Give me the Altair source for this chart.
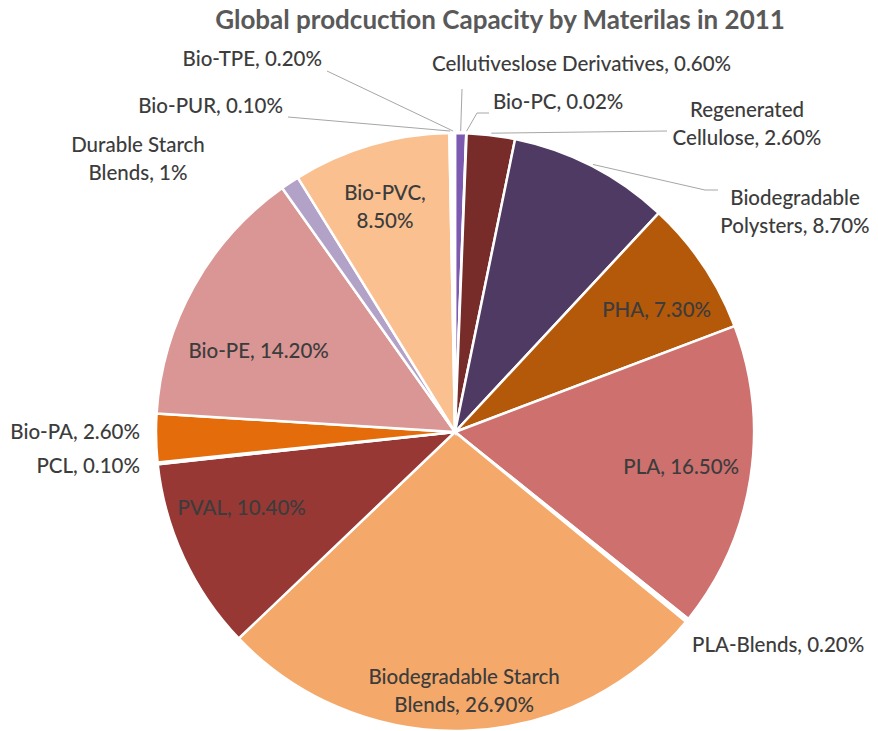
import math
import altair as alt
import pandas as pd

# Material shares (%) in clockwise order from 12 o'clock
materials = [
    "Cellutiveslose Derivatives", "Bio-PC", "Regenerated Cellulose",
    "Biodegradable Polysters", "PHA", "PLA", "PLA-Blends",
    "Biodegradable Starch Blends", "PVAL", "PCL", "Bio-PA", "Bio-PE",
    "Durable Starch Blends", "Bio-PVC", "Bio-PUR", "Bio-TPE",
]
shares = [0.60, 0.02, 2.60, 8.70, 7.30, 16.50, 0.20, 26.90, 10.40, 0.10,
          2.60, 14.20, 1.0, 8.50, 0.10, 0.20]
label_texts = [
    "Cellutiveslose Derivatives, 0.60%", "Bio-PC, 0.02%",
    "Regenerated\nCellulose, 2.60%", "Biodegradable\nPolysters, 8.70%",
    "PHA, 7.30%", "PLA, 16.50%", "PLA-Blends, 0.20%",
    "Biodegradable Starch\nBlends, 26.90%", "PVAL, 10.40%", "PCL, 0.10%",
    "Bio-PA, 2.60%", "Bio-PE, 14.20%", "Durable Starch\nBlends, 1%",
    "Bio-PVC,\n8.50%", "Bio-PUR, 0.10%", "Bio-TPE, 0.20%",
]
# the sliver slices are filled white, as they vanish under the slice borders
colors = [
    "#7B5AB0", "#FFFFFF", "#772C2A", "#4E3A62", "#B4580A", "#CD706E",
    "#FFFFFF", "#F4A96A", "#973835", "#FFFFFF", "#E46C0A", "#D99694",
    "#B3A2C7", "#FAC090", "#FFFFFF", "#FFFFFF",
]

# ---- layout ----
W, H = 878, 731
TOP = 40                     # room for the title
CX, CY = 455, 432            # pie centre on the page
R = 299
FONT = "Lato"
TEXT_COLOR = "#3C3C3C"
LINE_COLOR = "#A6A6A6"
LABEL_SIZE = 20.5

# inside labels: (radius, angle nudge in degrees) from the slice mid-angle
inside = {
    "PHA": (235, 3), "PLA": (229, 0), "Biodegradable Starch Blends": (246, 0),
    "PVAL": (227, 5), "Bio-PE": (212, -7), "Bio-PVC": (248, 0),
}
# outside labels: anchor point on the page and alignment
outside = {
    "Bio-TPE": (322, 60, "right"),
    "Bio-PUR": (283, 107, "right"),
    "Durable Starch Blends": (138, 146, "center"),
    "Cellutiveslose Derivatives": (432, 65, "left"),
    "Bio-PC": (493, 103, "left"),
    "Regenerated Cellulose": (747, 111, "center"),
    "Biodegradable Polysters": (795, 199, "center"),
    "PLA-Blends": (692, 646, "left"),
    "Bio-PA": (140, 433, "right"),
    "PCL": (140, 467, "right"),
}
# leader lines: extra bend points after the slice edge, on the page
leaders = {
    "Bio-TPE": [(327, 71)],
    "Bio-PUR": [(288, 117)],
    "Cellutiveslose Derivatives": [(462, 89)],
    "Bio-PC": [(477, 113), (489, 113)],
    "Regenerated Cellulose": [(667, 131)],
    "Biodegradable Polysters": [(705, 190), (718, 190)],
}

df = pd.DataFrame({"material": materials, "share": shares,
                   "label": label_texts, "idx": range(len(materials))})
total = df["share"].sum()
df["mid"] = (df["share"].cumsum() - df["share"] / 2) / total * 2 * math.pi


def polar(angle, radius):
    return CX + radius * math.sin(angle), CY - radius * math.cos(angle) - TOP


rows = []
for _, r in df.iterrows():
    if r["material"] in inside:
        rad, nudge = inside[r["material"]]
        x, y = polar(r["mid"] + math.radians(nudge), rad)
        rows.append({"label": r["label"], "x": x, "y": y, "align": "center"})
    elif r["material"] in outside:
        x, y, a = outside[r["material"]]
        rows.append({"label": r["label"], "x": x, "y": y - TOP, "align": a})
labels = pd.DataFrame(rows)

lrows = []
for _, r in df.iterrows():
    if r["material"] in leaders:
        x0, y0 = polar(r["mid"], R + 2)
        pts = [(x0, y0)] + [(px, py - TOP) for px, py in leaders[r["material"]]]
        for k, (px, py) in enumerate(pts):
            lrows.append({"material": r["material"], "k": k, "x": px, "y": py})
lines = pd.DataFrame(lrows)

pie = alt.Chart(df).mark_arc(radius=R, stroke="white", strokeWidth=2.5).encode(
    theta=alt.Theta("share:Q", stack=True),
    color=alt.Color("material:N", scale=alt.Scale(domain=materials, range=colors),
                    legend=None),
    order=alt.Order("idx:Q"),
    x=alt.value(CX),
    y=alt.value(CY - TOP),
)

leader = alt.Chart(lines).mark_line(color=LINE_COLOR, strokeWidth=1).encode(
    x=alt.X("x:Q", scale=None, axis=None),
    y=alt.Y("y:Q", scale=None, axis=None),
    detail="material:N",
    order="k:Q",
)

text_layers = []
for a in ["left", "center", "right"]:
    text_layers.append(
        alt.Chart(labels[labels["align"] == a]).mark_text(
            font=FONT, fontSize=LABEL_SIZE, fontWeight=500, color=TEXT_COLOR,
            align=a, baseline="middle", lineBreak="\n", lineHeight=28,
        ).encode(
            x=alt.X("x:Q", scale=None, axis=None),
            y=alt.Y("y:Q", scale=None, axis=None),
            text="label:N",
        )
    )

chart = alt.layer(pie, leader, *text_layers).properties(
    width=W, height=H - TOP,
    padding={"left": 0, "top": TOP, "right": 0, "bottom": 0},
    autosize=alt.AutoSizeParams(type="none"),
    title=alt.TitleParams(
        "Global prodcuction Capacity by Materilas in 2011",
        font=FONT, fontSize=26, fontWeight="bold", color="#595959",
        anchor="middle", dx=61, offset=6,
    ),
).configure_view(stroke=None)

chart.save("out.html", embed_options={"renderer": "svg", "actions": False})
